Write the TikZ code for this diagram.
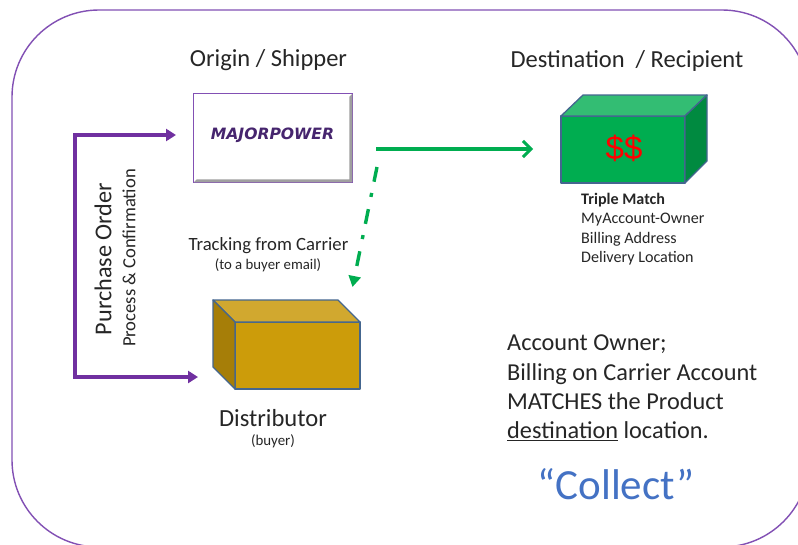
\documentclass[tikz,border=0pt]{standalone}
\usepackage{fontspec}
\setmainfont{Carlito}
\newfontfamily\logofont{DejaVu Sans}
\newfontfamily\dollarfont{Liberation Sans}
\usetikzlibrary{arrows.meta}
\definecolor{frameviolet}{HTML}{8250B4}
\definecolor{arrowviolet}{HTML}{7030A0}
\definecolor{logoviolet}{HTML}{46256E}
\definecolor{boxedge}{HTML}{44668F}
\definecolor{gfront}{HTML}{00AD50}
\definecolor{gtop}{HTML}{33BD73}
\definecolor{gside}{HTML}{008A40}
\definecolor{ofront}{HTML}{CC9C0A}
\definecolor{otop}{HTML}{D1A82F}
\definecolor{oside}{HTML}{A67E08}
\definecolor{txt}{HTML}{262626}
\tikzset{
  lbl/.style={inner sep=0pt,text=txt,font=\fontsize{#1}{#1}\selectfont},
  lbl/.default=12,
  para/.style={lbl=#1,align=left,anchor=north west},
  face/.style={draw=boxedge,line width=1.3pt,line join=round},
  violetarrow/.style={draw=arrowviolet,line width=3.6pt,{Triangle[length=10pt,width=12pt]}-{Triangle[length=10pt,width=12pt]}},
  greenarrow/.style={draw=gfront,line width=3.2pt,-{Straight Barb[length=8pt,width=16pt,line width=3pt]}},
}
\begin{document}
\begin{tikzpicture}[x=1pt,y=-1pt]
\useasboundingbox (0,0) rectangle (798,544);
\begin{scope}
\clip (0,0) rectangle (798,544);
\fill[white] (0,0) rectangle (798,544);
\draw[frameviolet,line width=1.4pt,rounded corners=87pt] (12,10) rectangle (809,547);
\end{scope}

% titles
\node[lbl=24.5] (origin) at (268.5,60.5) {Origin / Shipper};
\node[lbl=24.5] (dest) at (627,60.5) {Destination \ / Recipient};

% logo box
\node[draw=frameviolet,line width=1.5pt,fill=white,minimum width=159pt,minimum height=89pt,inner sep=0pt] (logo) at (273,138) {};
\fill[gray!75] ([shift={(-1,1)}]logo.north east) -- ([shift={(-1,-1)}]logo.south east) -- ([shift={(1,-1)}]logo.south west) -- ([shift={(4,-4)}]logo.south west) -- ([shift={(-4,-4)}]logo.south east) -- ([shift={(-4,4)}]logo.north east) -- cycle;
\node[inner sep=0pt,text=logoviolet,font=\logofont\bfseries\itshape\fontsize{15.6}{15.6}\selectfont] (logotext) at (272.5,135) {MAJORPOWER};

% green box
\coordinate (ga) at (561,116);
\coordinate (gb) at (685,116);
\coordinate (gc) at (685,183);
\coordinate (gd) at (561,183);
\coordinate (ge) at (583,95);
\coordinate (gf) at (707,95);
\coordinate (gg) at (707,161);
\path[face,fill=gfront] (ga) -- (gb) -- (gc) -- (gd) -- cycle;
\path[face,fill=gtop] (ga) -- (ge) -- (gf) -- (gb) -- cycle;
\path[face,fill=gside] (gb) -- (gf) -- (gg) -- (gc) -- cycle;
\node[inner sep=0pt,text=red,font=\dollarfont\fontsize{33}{33}\selectfont] (dollars) at (624,148) {\$\$};

% orange box
\coordinate (oa) at (235,322);
\coordinate (ob) at (360,322);
\coordinate (oc) at (360,389);
\coordinate (od) at (235,389);
\coordinate (oe) at (213,300);
\coordinate (of) at (338,300);
\coordinate (og) at (213,367);
\path[face,fill=ofront] (oa) -- (ob) -- (oc) -- (od) -- cycle;
\path[face,fill=otop] (oa) -- (oe) -- (of) -- (ob) -- cycle;
\path[face,fill=oside] (oa) -- (oe) -- (og) -- (od) -- cycle;

% connectors
\coordinate (poleft) at (75,135);
\coordinate (polow) at (75,377);
\coordinate (logoin) at (176,135);
\coordinate (boxin) at (198,377);
\draw[violetarrow] (logoin) -- (poleft) -- (polow) -- (boxin);
\coordinate (gstart) at (376,149);
\coordinate (gend) at (533,149);
\draw[greenarrow] (gstart) -- (gend);
\coordinate (dstart) at (377,167);
\coordinate (dend) at (352.5,287);
\draw[draw=gfront,line width=3.4pt,dash pattern=on 15pt off 11.5pt on 4pt off 12.5pt,-{Triangle[length=11pt,width=12pt]}] (dstart) -- (dend);

% rotated labels
\node[lbl=24.2,rotate=90] (po) at (103,259) {Purchase Order};
\node[lbl=18.6,rotate=90] (pc) at (129,258) {Process \& Confirmation};

% labels
\node[lbl=18.7] (track) at (268.5,245.5) {Tracking from Carrier};
\node[lbl=14.8] (buyer) at (268,265) {(to a buyer email)};
\node[lbl=24.6] (distr) at (273,418) {Distributor};
\node[lbl=14.9] (buy2) at (273,441) {(buyer)};

\node[para=16.1,text=txt] (triple) at (581,192.5) {\textbf{Triple Match}\\[3.4pt]MyAccount-Owner\\[3.4pt]Billing Address\\[3.4pt]Delivery Location};

\node[para=24.3] (acct) at (507,335) {Account Owner;\\[5pt]Billing on Carrier Account\\[5pt]MATCHES the Product\\[5pt]\underline{destination} location.};

\node[lbl=43,text={rgb,255:red,68;green,114;blue,196}] (collect) at (616,484) {“Collect”};
\end{tikzpicture}
\end{document}
